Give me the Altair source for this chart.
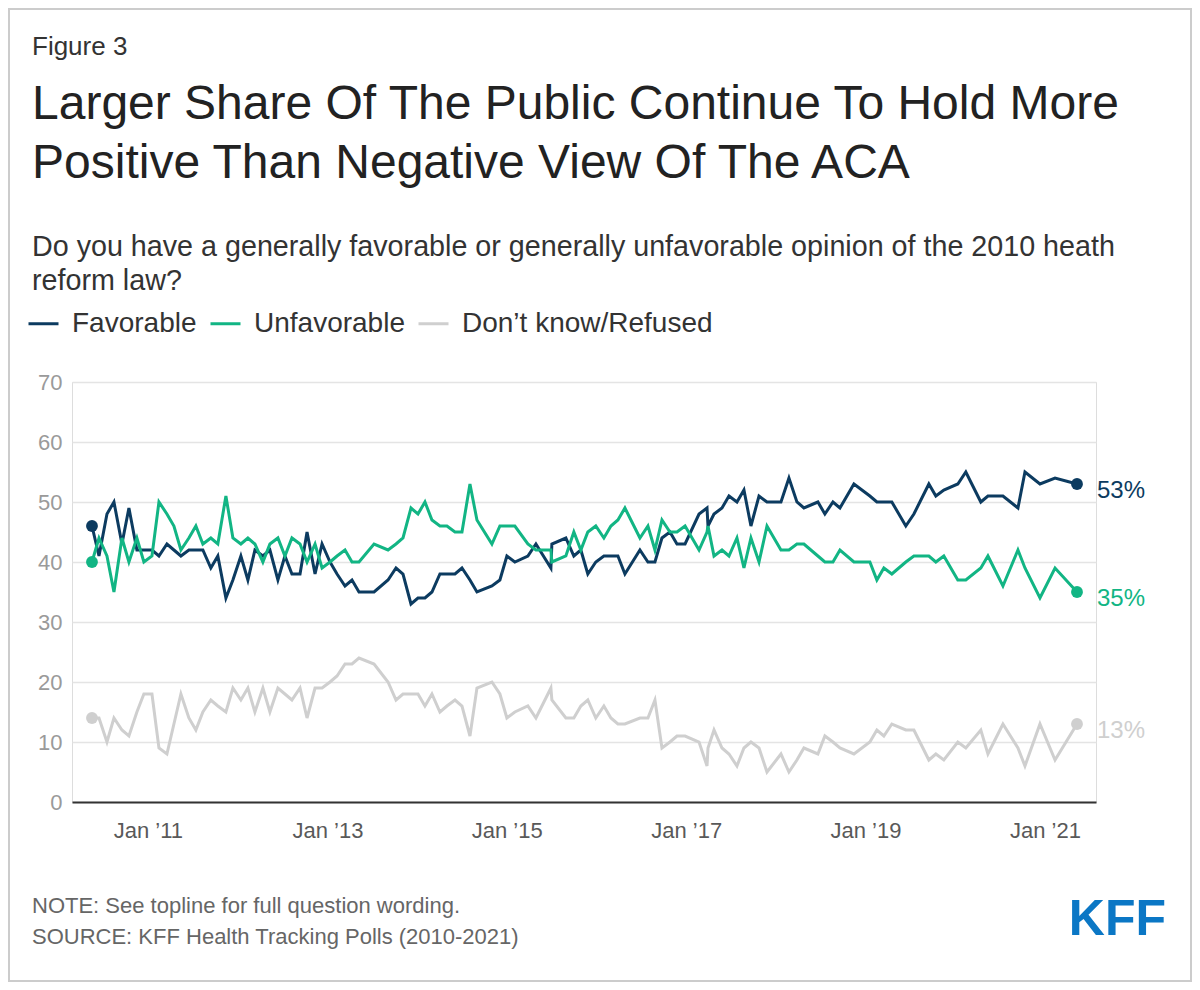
import altair as alt
import pandas as pd

# ---- data (poll timing as decimal years) ----
poll_year = [2010.376, 2010.454, 2010.543, 2010.621, 2010.710, 2010.788, 2010.877, 2010.955,
             2011.045, 2011.123, 2011.212, 2011.290, 2011.368, 2011.457, 2011.535, 2011.613,
             2011.702, 2011.780, 2011.870, 2011.948, 2012.037, 2012.115, 2012.193, 2012.282,
             2012.360, 2012.449, 2012.527, 2012.605, 2012.695, 2012.773, 2012.862, 2012.940,
             2013.029, 2013.107, 2013.196, 2013.274, 2013.352, 2013.520, 2013.676, 2013.765,
             2013.843, 2013.932, 2014.010, 2014.088, 2014.166, 2014.255, 2014.333, 2014.423,
             2014.501, 2014.590, 2014.668, 2014.835, 2014.924, 2015.002, 2015.091, 2015.236,
             2015.326, 2015.493, 2015.504, 2015.660, 2015.749, 2015.827, 2015.905, 2015.994,
             2016.084, 2016.162, 2016.240, 2016.318, 2016.485, 2016.574, 2016.652, 2016.730,
             2016.819, 2016.897, 2016.987, 2017.143, 2017.232, 2017.243, 2017.310, 2017.399,
             2017.477, 2017.566, 2017.644, 2017.722, 2017.812, 2017.901, 2018.057, 2018.146,
             2018.235, 2018.313, 2018.469, 2018.547, 2018.637, 2018.715, 2018.871, 2019.049,
             2019.127, 2019.205, 2019.294, 2019.450, 2019.540, 2019.707, 2019.785, 2019.874,
             2020.030, 2020.119, 2020.286, 2020.365, 2020.532, 2020.699, 2020.777, 2020.944,
             2021.112, 2021.357]

favorable = [46, 41, 48, 50, 43, 49, 42, 42, 42, 41, 43, 42, 41, 42, 42, 42,
             39, 41, 34, 37, 41, 37, 42, 41, 42, 37, 41, 38, 38, 45, 38, 43,
             40, 38, 36, 37, 35, 35, 37, 39, 38, 33, 34, 34, 35, 38, 38, 38,
             39, 37, 35, 36, 37, 41, 40, 41, 43, 39, 43, 44, 41, 42, 38, 40,
             41, 41, 41, 38, 42, 40, 40, 44, 45, 43, 43, 48, 49, 46, 48, 49,
             51, 50, 52, 46, 51, 50, 50, 54, 50, 49, 50, 48, 50, 49, 53, 51,
             50, 50, 50, 46, 48, 53, 51, 52, 53, 55, 50, 51, 51, 49, 55, 53,
             54, 53]

unfavorable = [40, 44, 41, 35, 44, 40, 44, 40, 41, 50, 48, 46, 42, 44, 46, 43,
               44, 43, 51, 44, 43, 44, 43, 40, 43, 44, 41, 44, 43, 40, 43, 39,
               40, 41, 42, 40, 40, 43, 42, 43, 44, 49, 48, 50, 47, 46, 46, 45,
               45, 53, 47, 43, 46, 46, 46, 43, 42, 42, 40, 41, 45, 42, 45, 46,
               44, 46, 47, 49, 44, 46, 42, 47, 45, 45, 46, 42, 45, 46, 41, 42,
               41, 44, 39, 44, 40, 46, 42, 42, 43, 43, 41, 40, 40, 42, 40, 40,
               37, 39, 38, 40, 41, 41, 40, 41, 37, 37, 39, 41, 36, 42, 39, 34,
               39, 35]

dont_know = [14, 14, 10, 14, 12, 11, 15, 18, 18, 9, 8, 13, 18, 14, 12, 15,
             17, 16, 15, 19, 17, 19, 15, 19, 15, 19, 18, 17, 19, 14, 19, 19,
             20, 21, 23, 23, 24, 23, 20, 17, 18, 18, 18, 16, 18, 15, 16, 17,
             16, 11, 19, 20, 18, 14, 15, 16, 14, 19, 17, 14, 14, 16, 17, 14,
             16, 14, 13, 13, 14, 14, 17, 9, 10, 11, 11, 10, 6, 9, 12, 9,
             8, 6, 9, 10, 9, 5, 8, 5, 7, 9, 8, 11, 10, 9, 8, 10,
             12, 11, 13, 12, 12, 7, 8, 7, 10, 9, 12, 8, 13, 9, 6, 13,
             7, 13]

series_names = ["Favorable", "Unfavorable", "Don\u2019t know/Refused"]
series_colors = ["#0c3b60", "#12b584", "#cfcfcf"]
tick_years = [2011, 2013, 2015, 2017, 2019, 2021]
y_ticks = [0, 10, 20, 30, 40, 50, 60, 70]
x_extent_years = [2010.153, 2021.569]

assert len(poll_year) == len(favorable) == len(unfavorable) == len(dont_know)


def to_date(y):
    yr = int(y)
    start = pd.Timestamp(year=yr, month=1, day=1)
    end = pd.Timestamp(year=yr + 1, month=1, day=1)
    return (start + (end - start) * (y - yr)).floor("min")


def to_dt(ts):
    return alt.DateTime(year=ts.year, month=ts.month, date=ts.day, hours=ts.hour)


dates = [to_date(y) for y in poll_year]
rows = []
for name, vals in zip(series_names, [favorable, unfavorable, dont_know]):
    for d, v in zip(dates, vals):
        rows.append({"date": d, "series": name, "value": v})
df = pd.DataFrame(rows)

ends = pd.concat([df.groupby("series", sort=False).head(1),
                  df.groupby("series", sort=False).tail(1)])
last = df.groupby("series", sort=False).tail(1).copy()
last["label"] = last["value"].astype(str) + "%"

FONT = "Liberation Sans"

x_enc = alt.X(
    "date:T",
    scale=alt.Scale(domain=[to_dt(to_date(x_extent_years[0])), to_dt(to_date(x_extent_years[1]))]),
    axis=alt.Axis(values=[alt.DateTime(year=y, month=1, date=1) for y in tick_years],
                  format="%b \u2019%y", title=None, grid=False, ticks=False,
                  domain=True, domainColor="#333333", domainWidth=2,
                  labelFontSize=22, labelColor="#595959", labelPadding=18, labelFont=FONT),
)
y_enc = alt.Y(
    "value:Q",
    scale=alt.Scale(domain=[0, 70]),
    axis=alt.Axis(values=y_ticks, title=None, domain=False, ticks=False, grid=True,
                  gridColor="#e4e4e4", gridWidth=1.5, labelFontSize=22,
                  labelColor="#9a9a9a", labelPadding=10, labelFont=FONT),
)
color_scale = alt.Scale(domain=series_names, range=series_colors)

lines = alt.Chart(df).mark_line(strokeWidth=3).encode(
    x=x_enc, y=y_enc,
    color=alt.Color("series:N", scale=color_scale, sort=series_names,
                    legend=alt.Legend(orient="none", legendX=-45, legendY=-75,
                                      direction="horizontal", title=None,
                                      symbolType="stroke", symbolSize=900,
                                      symbolStrokeWidth=3, labelFontSize=28,
                                      labelColor="#333333", labelOffset=12,
                                      labelLimit=0,
                                      columnPadding=7, padding=0, labelFont=FONT)),
)

dots = alt.Chart(ends).mark_circle(size=140, opacity=1).encode(
    x="date:T", y="value:Q",
    color=alt.Color("series:N", scale=color_scale, legend=None),
)

end_labels = alt.Chart(last).mark_text(align="left", baseline="middle", dx=20, dy=7,
                                       fontSize=24, font=FONT).encode(
    x="date:T", y="value:Q", text="label:N",
    color=alt.Color("series:N", scale=color_scale, legend=None),
)


def label(text, x, y, size, color, weight="normal", font=FONT, align="left"):
    return alt.Chart(pd.DataFrame({"t": [text]})).mark_text(
        align=align, baseline="alphabetic", fontSize=size, color=color,
        fontWeight=weight, font=font).encode(x=alt.value(x), y=alt.value(y), text="t:N")


texts = [
    label("Figure 3", -40, -327, 26, "#333333"),
    label("Larger Share Of The Public Continue To Hold More", -40, -263, 48, "#222222"),
    label("Positive Than Negative View Of The ACA", -40, -204, 48, "#222222"),
    label("Do you have a generally favorable or generally unfavorable opinion of the 2010 heath",
          -40, -126, 28.7, "#333333"),
    label("reform law?", -40, -92, 28.7, "#333333"),
    label("NOTE: See topline for full question wording.", -40, 531, 22, "#666666"),
    label("SOURCE: KFF Health Tracking Polls (2010-2021)", -40, 562, 22, "#666666"),
    label("KFF", 1094, 553, 50, "#0b77c5", weight="bold", align="right"),
]

frame = alt.Chart(pd.DataFrame({"t": [0]})).mark_rect(
    filled=False, stroke="#cccccc", strokeWidth=2).encode(
    x=alt.value(-63), x2=alt.value(1119), y=alt.value(-373), y2=alt.value(599))

chart = alt.layer(frame, lines, dots, end_labels, *texts).properties(
    width=1024, height=420,
    autosize=alt.AutoSizeParams(type="none"),
    padding={"left": 64, "top": 374, "right": 96, "bottom": 180},
    background="white",
).configure_view(stroke=None).configure(font=FONT)

chart.save("out.html", embed_options={"renderer": "svg", "actions": False})
